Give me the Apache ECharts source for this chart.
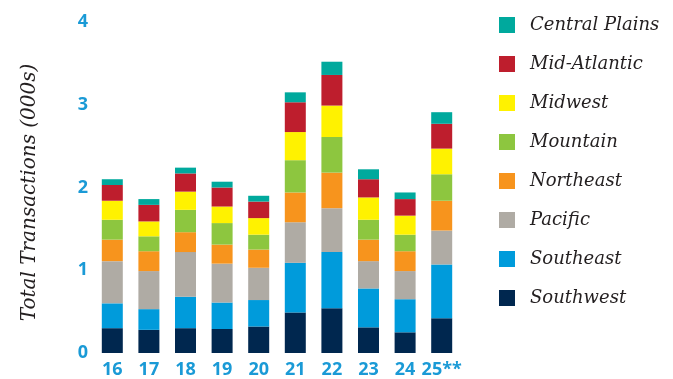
<!DOCTYPE html>
<html>
<head>
<meta charset="utf-8">
<script src="https://cdn.jsdelivr.net/npm/echarts@6/dist/echarts.min.js"></script>
<style>
html,body{margin:0;padding:0;background:#fff;}
#c{width:673px;height:379px;}
</style>
</head>
<body>
<div id="c"></div>
<script>
const categories = ['16','17','18','19','20','21','22','23','24','25**'];
const southwest     = [0.30, 0.28, 0.30, 0.29, 0.32, 0.49, 0.54, 0.31, 0.25, 0.42];
const southeast     = [0.30, 0.25, 0.38, 0.32, 0.32, 0.60, 0.68, 0.47, 0.40, 0.65];
const pacific       = [0.51, 0.46, 0.54, 0.47, 0.39, 0.49, 0.53, 0.33, 0.34, 0.41];
const northeast     = [0.26, 0.24, 0.24, 0.23, 0.22, 0.36, 0.43, 0.26, 0.24, 0.36];
const mountain      = [0.24, 0.18, 0.27, 0.26, 0.18, 0.39, 0.43, 0.24, 0.20, 0.32];
const midwest       = [0.23, 0.18, 0.22, 0.20, 0.20, 0.34, 0.38, 0.27, 0.23, 0.31];
const midAtlantic   = [0.19, 0.20, 0.22, 0.23, 0.20, 0.36, 0.37, 0.22, 0.20, 0.30];
const centralPlains = [0.07, 0.07, 0.07, 0.07, 0.07, 0.12, 0.16, 0.12, 0.08, 0.14];
const yTicks = [0, 1, 2, 3, 4];

const seriesDefs = [
  ['Southwest', southwest, '#00274f'],
  ['Southeast', southeast, '#009bdb'],
  ['Pacific', pacific, '#afaba4'],
  ['Northeast', northeast, '#f7941d'],
  ['Mountain', mountain, '#8dc63f'],
  ['Midwest', midwest, '#fff200'],
  ['Mid-Atlantic', midAtlantic, '#be1e2d'],
  ['Central Plains', centralPlains, '#00a99d']
];

const chart = echarts.init(document.getElementById('c'), null, {renderer:'canvas'});
chart.setOption({
  animation: false,
  backgroundColor: '#ffffff',
  grid: {left: 94, right: 213, top: 22, bottom: 22},
  legend: {
    orient: 'vertical',
    left: 494, top: 11,
    itemWidth: 16, itemHeight: 16, itemGap: 21,
    icon: 'rect',
    data: seriesDefs.map(s => s[0]).reverse(),
    textStyle: {fontFamily: 'DejaVu Serif', fontStyle: 'italic', fontSize: 18, color: '#231f20', padding: [0,0,0,10]}
  },
  xAxis: {
    type: 'category',
    data: categories,
    axisLine: {show: false},
    axisTick: {show: false},
    axisLabel: {margin: 8, color: '#1a9ad6', fontFamily: 'Open Sans', fontWeight: 'bold', fontSize: 18, interval: 0}
  },
  yAxis: {
    type: 'value',
    min: yTicks[0], max: yTicks[yTicks.length-1], interval: 1,
    splitLine: {show: false},
    axisLine: {show: false},
    axisTick: {show: false},
    axisLabel: {margin: 6, color: '#1a9ad6', fontFamily: 'Open Sans', fontWeight: 'bold', fontSize: 18},
    name: 'Total Transactions (000s)',
    nameLocation: 'middle',
    nameRotate: 90,
    nameGap: 54,
    nameTextStyle: {fontFamily: 'DejaVu Serif', fontStyle: 'italic', fontSize: 20, color: '#231f20', padding: [0, 10, 0, 0]}
  },
  series: seriesDefs.map(([name, data, color]) => ({
    name, type: 'bar', stack: 'total', data, barWidth: 21,
    itemStyle: {color}
  }))
});
</script>
</body>
</html>
